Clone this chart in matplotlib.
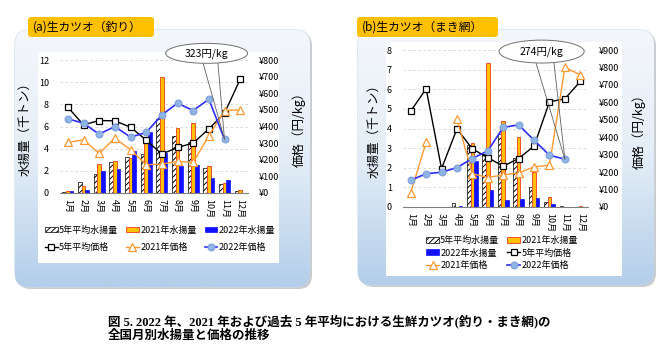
import numpy as np
import matplotlib
matplotlib.use("Agg")
import matplotlib.pyplot as plt
from matplotlib.patches import FancyBboxPatch, Rectangle, Ellipse
from matplotlib.colors import LinearSegmentedColormap

plt.rcParams['font.family'] = ['Noto Sans CJK JP', 'DejaVu Sans']
plt.rcParams['hatch.linewidth'] = 0.7

nan = np.nan
months = ['1月', '2月', '3月', '4月', '5月', '6月', '7月', '8月', '9月', '10月', '11月', '12月']

# (a) 釣り : 水揚量 (千トン)
a_vol_5yr = [0.1, 0.95, 1.75, 2.8, 3.25, 3.55, 6.7, 5.1, 4.6, 2.25, 0.8, 0.15]
a_vol_2021 = [0.15, 0.65, 2.65, 2.9, 3.15, 5.0, 10.5, 5.85, 6.35, 2.45, 0.9, 0.3]
a_vol_2022 = [0.15, 0.3, 1.95, 2.15, 3.8, 5.5, 3.6, 2.45, 2.55, 1.35, 1.2, nan]
# (a) 価格 (円/kg)
a_pr_5yr = [516, 410, 436, 434, 396, 318, 234, 274, 300, 386, 480, 684]
a_pr_2021 = [304, 320, 238, 330, 260, 170, 174, 190, 184, 344, 496, 500]
a_pr_2022 = [446, 420, 354, 400, 336, 364, 470, 540, 496, 564, 323, nan]

# (b) まき網 : 水揚量 (千トン)
b_vol_5yr = [0.02, 0.02, 0.02, 0.2, 3.15, 2.7, 3.7, 2.5, 1.0, 0.26, 0.06, 0.0]
b_vol_2021 = [0.02, 0.0, 0.0, 0.0, 3.27, 7.35, 4.37, 3.57, 1.8, 0.5, 0.0, 0.03]
b_vol_2022 = [0.01, 0.01, 0.01, 0.03, 2.35, 0.85, 0.35, 0.41, 0.47, 0.14, 0.01, 0.0]
# (b) 価格 (円/kg)
b_pr_5yr = [549, 678, 220, 448, 333, 283, 234, 278, 349, 603, 620, 720]
b_pr_2021 = [82, 371, nan, 504, 191, 169, 184, 195, 230, 239, 800, 758]
b_pr_2022 = [153, 191, 199, 226, 278, 322, 456, 471, 383, 297, 274, nan]

W, H = 672, 349
fig = plt.figure(figsize=(6.72, 3.49), dpi=100)
bg = fig.add_axes([0, 0, 1, 1])
bg.set_zorder(0)
bg.axis('off')

cmap = LinearSegmentedColormap.from_list('pan', ['#F4F7FB', '#E4EDF7', '#B3CEEA'])
grad = np.linspace(0, 1, 256).reshape(-1, 1)


def panel(x0, y0, x1, y1, inner, tbox, title):
    shadow = FancyBboxPatch((x0 + 2, y0 + 2), x1 - x0, y1 - y0,
                            boxstyle='round,pad=0,rounding_size=14',
                            fc='#A8A8A8', ec='none', alpha=0.6, zorder=0.5)
    bg.add_patch(shadow)
    box = FancyBboxPatch((x0, y0), x1 - x0, y1 - y0,
                         boxstyle='round,pad=0,rounding_size=14',
                         fc='white', ec='#C9D7E6', lw=0.8, zorder=0.8)
    bg.add_patch(box)
    im = bg.imshow(grad, extent=(x0, x1, y1, y0), cmap=cmap, aspect='auto', zorder=1)
    im.set_clip_path(box)
    ix0, iy0, ix1, iy1 = inner
    bg.add_patch(Rectangle((ix0, iy0), ix1 - ix0, iy1 - iy0, fc='white', ec='none', zorder=2))
    tx0, ty0, tx1, ty1 = tbox
    bg.add_patch(FancyBboxPatch((tx0, ty0), tx1 - tx0, ty1 - ty0,
                                boxstyle='round,pad=0,rounding_size=3',
                                fc='#FFC000', ec='none', zorder=3))
    bg.text(tx0 + 5, (ty0 + ty1) / 2, title, fontsize=8.5, va='center', ha='left', zorder=4)


panel(15, 30, 310, 287, (38, 52, 279, 263), (28, 17, 154, 37), '(a)生カツオ（釣り）')
panel(358, 30, 654, 285, (386, 42, 622, 276), (357, 17, 498, 37), '(b)生カツオ（まき網）')
bg.set_xlim(0, W)
bg.set_ylim(H, 0)


def chart(box, vols, prices, ymax, ystep, pmax, pstep, lab_l, lab_r, note, ell, base):
    l, t, r, b = box
    ax = fig.add_axes([l / W, 1 - b / H, (r - l) / W, (b - t) / H])
    ax.set_zorder(1)
    ax.patch.set_visible(False)
    x = np.arange(12)
    bw = 0.23
    h1 = ax.bar(x - bw, vols[0], bw, color='white', edgecolor='black', hatch='//////', lw=0.5)
    h2 = ax.bar(x, vols[1], bw, color='#FFC000', edgecolor='#F0502A', lw=0.7)
    h3 = ax.bar(x + bw, vols[2], bw, color='#1010FF', edgecolor='#1010FF', lw=0.5)
    ax.set_xlim(-0.5, 11.5)
    ax.set_ylim(0, ymax)
    ax.set_yticks(np.arange(0, ymax + 0.01, ystep))
    ax.set_xticks(x)
    ax.set_xticklabels(months, rotation=270, fontsize=6.5)
    ax.tick_params(axis='y', length=0, labelsize=6.5, pad=8)
    ax.tick_params(axis='x', length=0, pad=4)
    ax.yaxis.grid(True, ls=(0, (3, 3)), color='#D3D3D3', lw=0.6)
    ax.set_axisbelow(True)
    for s in ['top', 'left', 'right']:
        ax.spines[s].set_visible(False)
    ax.spines['bottom'].set_color('#808080')
    ax.spines['bottom'].set_linewidth(0.8)
    ax.set_ylabel(lab_l, fontsize=9)
    ax.yaxis.set_label_coords(lab_pos[0], 0.5)

    ax2 = ax.twinx()
    ax2.set_zorder(2)
    ax2.patch.set_visible(False)
    l1, = ax2.plot(x, prices[0], color='black', lw=1.0, marker='s', ms=5,
                   mfc='white', mec='black', mew=0.9)
    l2, = ax2.plot(x, prices[1], color='#FF9933', lw=1.0, marker='^', ms=5.5,
                   mfc='white', mec='#FF9933', mew=0.9)
    l3, = ax2.plot(x, prices[2], color='#2E2EFF', lw=1.2, marker='o', ms=5,
                   mfc='#8DB4E2', mec='#7C9BE0', mew=0.7)
    ax2.set_ylim(0, pmax)
    pt = np.arange(0, pmax + 1, pstep)
    ax2.set_yticks(pt)
    ax2.set_yticklabels(['¥%d' % v for v in pt])
    ax2.tick_params(axis='y', length=0, labelsize=6.5, pad=8)
    for s in ax2.spines.values():
        s.set_visible(False)
    ax2.set_ylabel(lab_r, fontsize=9, rotation=90)
    ax2.yaxis.set_label_coords(lab_pos[1], 0.5)

    # callout
    ax2.add_patch(Ellipse(ell[:2], ell[2], ell[3], transform=ax2.transAxes,
                          fc='white', ec='#707070', lw=0.7, clip_on=False, zorder=10))
    ax2.text(ell[0], ell[1], note, transform=ax2.transAxes, fontsize=7.5,
             ha='center', va='center', zorder=11)
    for bx in base[:2]:
        ax2.annotate('', xy=(10, prices[2][10]), xycoords='data',
                     xytext=(bx, base[2]), textcoords='axes fraction',
                     arrowprops=dict(arrowstyle='-', color='#606060', lw=0.6,
                                     shrinkA=0, shrinkB=0),
                     zorder=9, annotation_clip=False)
    return [h1, h2, h3, l1, l2, l3]


names = ['5年平均水揚量', '2021年水揚量', '2022年水揚量', '5年平均価格', '2021年価格', '2022年価格']

lab_pos = (-0.154, 1.234)
ha = chart((60, 60, 248, 193), (a_vol_5yr, a_vol_2021, a_vol_2022),
           (a_pr_5yr, a_pr_2021, a_pr_2022), 12, 2, 800, 100,
           '水揚量（千トン）', '価格（円/kg）', '323円/kg',
           (0.78, 1.05, 0.436, 0.15), (0.761, 0.84, 0.977))
order = [0, 3, 1, 4, 2, 5]
fig.legend([ha[i] for i in order], [names[i] for i in order], loc='center',
           bbox_to_anchor=(160 / W, 1 - 239 / H), ncol=3, frameon=False,
           fontsize=6.5, handlelength=1.4, handleheight=0.6, handletextpad=0.15,
           columnspacing=0.9, labelspacing=0.95, borderpad=0, numpoints=1)

lab_pos = (-0.124, 1.238)
hb = chart((403, 50, 588, 207), (b_vol_5yr, b_vol_2021, b_vol_2022),
           (b_pr_5yr, b_pr_2021, b_pr_2022), 8, 1, 900, 100,
           '水揚量（千トン）', '価格（円/kg）', '274円/kg',
           (0.749, 0.99, 0.46, 0.146), (0.719, 0.816, 0.917))
order = [0, 2, 4, 1, 3, 5]
fig.legend([hb[i] for i in order], [names[i] for i in order], loc='center',
           bbox_to_anchor=(502 / W, 1 - 253 / H), ncol=2, frameon=False,
           fontsize=6.5, handlelength=1.4, handleheight=0.6, handletextpad=0.15,
           columnspacing=0.9, labelspacing=0.35, borderpad=0, numpoints=1)

cap_font = ['Liberation Serif', 'Noto Sans CJK JP']
fig.text(108 / W, 1 - 321 / H,
         '図 5. 2022 年、2021 年および過去 5 年平均における生鮮カツオ(釣り・まき網)の',
         fontsize=9, weight='bold', family=cap_font, va='center')
fig.text(108 / W, 1 - 336 / H, '全国月別水揚量と価格の推移',
         fontsize=9, weight='bold', family=cap_font, va='center')

fig.savefig('out.png', dpi=100)
